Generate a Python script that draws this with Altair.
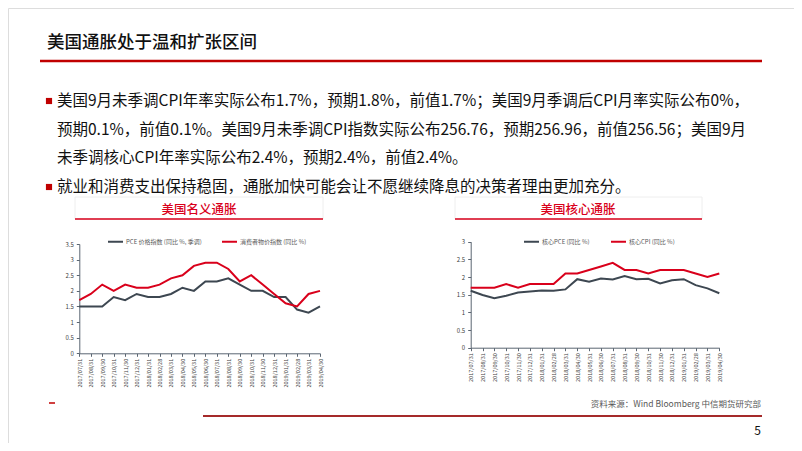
import altair as alt
import pandas as pd

# ---------------- data ----------------
dates = ["2017/07/31", "2017/08/31", "2017/09/30", "2017/10/31", "2017/11/30", "2017/12/31",
         "2018/01/31", "2018/02/28", "2018/03/31", "2018/04/30", "2018/05/31", "2018/06/30",
         "2018/07/31", "2018/08/31", "2018/09/30", "2018/10/31", "2018/11/30", "2018/12/31",
         "2019/01/31", "2019/02/28", "2019/03/31", "2019/04/30"]

pce = [1.5, 1.5, 1.5, 1.8, 1.7, 1.9, 1.8, 1.8, 1.9, 2.1, 2.0, 2.3,
       2.3, 2.4, 2.2, 2.0, 2.0, 1.8, 1.8, 1.4, 1.3, 1.5]
cpi = [1.7, 1.9, 2.2, 2.0, 2.2, 2.1, 2.1, 2.2, 2.4, 2.5, 2.8, 2.9,
       2.9, 2.7, 2.3, 2.5, 2.2, 1.9, 1.6, 1.5, 1.9, 2.0]
core_pce = [1.61, 1.49, 1.40, 1.47, 1.56, 1.59, 1.62, 1.61, 1.65, 1.94, 1.87, 1.96,
            1.93, 2.03, 1.94, 1.95, 1.82, 1.91, 1.94, 1.77, 1.68, 1.54]
core_cpi = [1.7, 1.7, 1.7, 1.8, 1.7, 1.8, 1.8, 1.8, 2.1, 2.1, 2.2, 2.3,
            2.4, 2.2, 2.2, 2.1, 2.2, 2.2, 2.2, 2.1, 2.0, 2.1]

series1 = ["PCE 价格指数 (同比 %, 季调)", "消费者物价指数 (同比 %)"]
series2 = ["核心PCE  (同比 %)", "核心CPI (同比 %)"]

y1_ticks = [0, 0.5, 1, 1.5, 2, 2.5, 3, 3.5]
y2_ticks = [0, 0.5, 1, 1.5, 2, 2.5, 3]

slide_title = "美国通胀处于温和扩张区间"
body_lines = [
    "美国9月未季调CPI年率实际公布1.7%，预期1.8%，前值1.7%；美国9月季调后CPI月率实际公布0%，",
    "预期0.1%，前值0.1%。美国9月未季调CPI指数实际公布256.76，预期256.96，前值256.56；美国9月",
    "未季调核心CPI年率实际公布2.4%，预期2.4%，前值2.4%。",
    "就业和消费支出保持稳固，通胀加快可能会让不愿继续降息的决策者理由更加充分。",
]
chart_titles = ["美国名义通胀", "美国核心通胀"]
source_text = "资料来源：Wind Bloomberg 中信期货研究部"
page_no = "5"

# ---------------- styles ----------------
FONT = "Noto Sans CJK SC"
DARK = "#3d4751"
RED = "#d9001b"
DEEPRED = "#c00000"
AXIS = "#5b6672"
LABEL = "#404040"

df1 = pd.DataFrame({
    "date": dates * 2,
    "series": [series1[0]] * len(dates) + [series1[1]] * len(dates),
    "value": pce + cpi,
})
df2 = pd.DataFrame({
    "date": dates * 2,
    "series": [series2[0]] * len(dates) + [series2[1]] * len(dates),
    "value": core_pce + core_cpi,
})

W, H = 786, 435


def line_chart(df, series, yticks, xr, yr, legx, legy):
    return alt.Chart(df).mark_line(strokeWidth=2).encode(
        x=alt.X("date:O", sort=dates,
                scale=alt.Scale(range=xr, padding=0),
                axis=alt.Axis(orient="bottom", offset=yr[0] - H, title=None,
                              labelAngle=270, labelFontSize=5.5, labelColor=LABEL,
                              labelFont=FONT, labelPadding=2,
                              domainColor=AXIS, tickColor=AXIS, tickSize=3,
                              grid=False, labelOverlap=False)),
        y=alt.Y("value:Q",
                scale=alt.Scale(domain=[yticks[0], yticks[-1]], range=yr, nice=False),
                axis=alt.Axis(orient="left", offset=-xr[0], title=None,
                              values=yticks, format="~g", labelFontSize=6,
                              labelColor=LABEL, labelFont=FONT, labelPadding=3,
                              domainColor=AXIS, tickColor=AXIS, tickSize=3,
                              grid=False)),
        color=alt.Color("series:N",
                        scale=alt.Scale(domain=series, range=[DARK, RED]),
                        legend=alt.Legend(orient="none", legendX=legx, legendY=legy,
                                          direction="horizontal", title=None,
                                          symbolType="stroke", symbolSize=225,
                                          symbolStrokeWidth=2, labelFontSize=6,
                                          labelFont=FONT, labelColor="#595959",
                                          columnPadding=16, labelOffset=2,
                                          labelLimit=300, padding=0)),
        order=alt.Order("series:N"),
    )


c1 = line_chart(df1, series1, y1_ticks, [71.3, 312], [345.3, 236], 99, 225)
c2 = line_chart(df2, series2, y2_ticks, [462.7, 711.3], [339.7, 233.7], 515, 225)

one = pd.DataFrame({"k": [0]})


def text(s, x, y, size, color="#111111", align="left", weight="normal", baseline="middle"):
    return alt.Chart(pd.DataFrame({"t": [s]})).mark_text(
        align=align, baseline=baseline, font=FONT, fontSize=size,
        fontWeight=weight, color=color,
    ).encode(x=alt.value(x), y=alt.value(y), text="t:N")


def rule(x1, x2, y, color, w):
    return alt.Chart(one).mark_rule(color=color, strokeWidth=w).encode(
        x=alt.value(x1), x2=alt.value(x2), y=alt.value(y))


def box(x1, x2, y1, y2, color):
    return alt.Chart(one).mark_rect(fill="white", stroke=color, strokeWidth=1).encode(
        x=alt.value(x1), x2=alt.value(x2), y=alt.value(y1), y2=alt.value(y2))


def bullet(x, y):
    return alt.Chart(one).mark_square(size=38, color=DEEPRED, opacity=1).encode(
        x=alt.value(x), y=alt.value(y))


layers = [
    box(67, 315, 189, 211, "#eeeeee"),
    box(447, 694, 189, 211, "#eeeeee"),
    text(slide_title, 39, 35, 17.5, "#111111", weight=500),
    rule(32, 754, 53, DEEPRED, 2.5),
    bullet(41, 93),
    text(body_lines[0], 49, 93, 15.5),
    text(body_lines[1], 49, 122, 15.5),
    text(body_lines[2], 49, 150, 15.5),
    bullet(41, 179),
    text(body_lines[3], 49, 179, 15.5),
    text(chart_titles[0], 191, 202, 12.5, RED, align="center", weight=500),
    rule(67, 315, 211, RED, 1.5),
    text(chart_titles[1], 570, 202, 12.5, RED, align="center", weight=500),
    rule(447, 694, 211, RED, 1.5),
    c1,
    c2,
    rule(41, 47, 395, DEEPRED, 1.5),
    text(source_text, 753, 396, 8.5, "#595959", align="right"),
    rule(195, 754, 408, "#a52a2a", 2),
    text(page_no, 753, 423, 12, "#111111", align="right"),
]

chart = alt.layer(*layers).resolve_scale(
    x="independent", y="independent", color="independent"
).properties(
    width=W, height=H, padding=0,
    autosize=alt.AutoSizeParams(type="none"),
).configure_view(stroke=None).configure(background="white")

chart.save("out.html", embed_options={"renderer": "svg", "actions": False})
